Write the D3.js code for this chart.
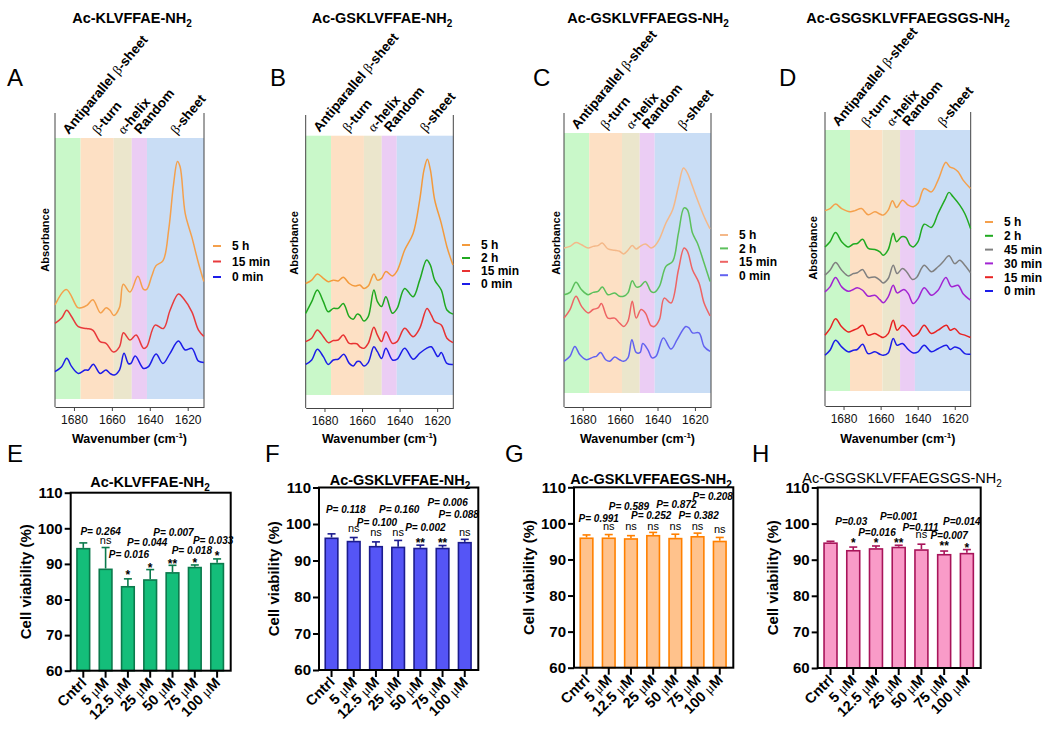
<!DOCTYPE html>
<html><head><meta charset="utf-8">
<script src="https://cdn.jsdelivr.net/npm/d3@7"></script>
<style>
body{margin:0;background:#fff}
svg{display:block}
text{font-family:"Liberation Sans",Arial,Helvetica,sans-serif}
</style>
</head><body>
<svg id="c" width="1050" height="731"></svg>
<script>
// ---------------- DATA ----------------
// FTIR spectra: [wavenumber (cm-1), absorbance (a.u., offset-stacked)]
const A_5h = [[1690,36],[1684,42],[1678,35],[1676,35],[1673,36],[1670,38],[1666,33],[1663,35],[1661,34],[1659,32],[1656,35],[1654,44],[1650.4,41],[1646.3,47],[1643.3,42],[1641.6,42],[1639,47],[1636.8,51],[1633,53],[1630,65],[1627.5,82],[1625.4,91],[1624,89],[1621.3,71],[1617.8,62],[1614.3,52],[1611.5,45]];
const A_15min = [[1690,29],[1686.5,31],[1683.8,34],[1681.2,31.5],[1677.7,27.7],[1673.3,27],[1670.1,26.4],[1666.2,22],[1663.1,21.3],[1659.2,18],[1656,20],[1653.9,25.4],[1650.4,22.6],[1647.2,24.5],[1643.3,19.4],[1641.6,20],[1637.2,28.3],[1632.8,27],[1629.3,34],[1624.9,40.2],[1622.2,38.5],[1617.8,33.4],[1614.3,26.4],[1611.5,24]];
const A_0min = [[1690,10.5],[1686.5,12.4],[1683.8,15.6],[1681.2,12.4],[1677.7,9.8],[1674.2,11.1],[1672.4,11.1],[1669.8,13.3],[1666.2,9.8],[1663.1,11.1],[1661,9.8],[1658.8,9.2],[1656,11.1],[1653.6,17.5],[1651.3,13.6],[1650,13.6],[1647.7,16.5],[1643.3,11.7],[1640.7,12.4],[1636.7,17.2],[1633.1,13.6],[1629.3,17.5],[1624.9,22.2],[1621.3,18.8],[1617.8,19.4],[1614.3,14.5],[1611.5,14]];

const B_5h = [[1690,43],[1686.8,44.3],[1683.8,46.7],[1680.6,45],[1678,43.7],[1675.3,44.3],[1672.7,44],[1670,45.4],[1666.8,43],[1663.8,42],[1661.2,42.4],[1659,41.1],[1656.7,42],[1653.7,46.7],[1651.8,44.3],[1649.6,45],[1647.3,47.6],[1643.8,45.9],[1641.3,47.9],[1637.3,55.9],[1632.8,62.3],[1629.3,75.2],[1627,86.8],[1625.2,90.9],[1623.6,86.8],[1621.3,75.2],[1617.8,66.2],[1614.8,57.2],[1611.6,50.1]];
const B_2h = [[1690,31.5],[1686.8,36],[1683.8,40.5],[1680.6,36],[1678,32.1],[1675.3,33.4],[1672.7,33.4],[1670,35.3],[1666.8,30.2],[1664.7,29.2],[1662.6,31.2],[1661.2,30.8],[1659,28.5],[1656.7,30.2],[1653.7,40.5],[1651.8,36],[1649.6,34.1],[1647.3,37.9],[1643.8,31.5],[1641.3,33.4],[1637.3,41.1],[1632.8,37.9],[1629.3,44.3],[1625.6,52.1],[1623.6,50.1],[1621.3,44.3],[1617.8,40.5],[1614.8,32.8],[1611.6,31.2]];
const B_15min = [[1690,20.6],[1686.8,21.9],[1683.8,25.1],[1680.6,22.5],[1678,20.2],[1675.3,21],[1672.7,21.2],[1670,23.1],[1666.8,19.9],[1663.8,19.9],[1662.6,19.7],[1661.2,18.6],[1659,18],[1656.7,19.9],[1653.7,26.1],[1651.8,23.1],[1649.6,20.6],[1647.3,24.4],[1643.8,19.9],[1641.3,20.6],[1637.3,25.7],[1632.8,22.5],[1629.3,25.7],[1625.4,33.4],[1623.1,30.8],[1621.3,28.3],[1617.8,27],[1614.8,21.9],[1611.6,20.2]];
const B_0min = [[1690,11.8],[1686.8,13.5],[1683.8,17.6],[1680.6,14.8],[1678,11.8],[1675.3,13.5],[1672.7,13.8],[1669.7,15.7],[1666.8,12.2],[1664.7,11.2],[1662.6,12.9],[1661.2,12.9],[1659,11.2],[1656.7,12.5],[1653.7,18.6],[1651.8,16.7],[1649.6,14.1],[1647.3,18],[1643.8,13.5],[1641.3,13.8],[1637.3,18],[1632.8,13.8],[1629.3,16.1],[1625.7,18],[1623.1,18.6],[1619.6,14.8],[1617.8,16.4],[1614.8,12.2],[1611.6,11.8]];

const C_5h = [[1690,55.8],[1686.8,56.4],[1683.6,57.9],[1680.6,57],[1677.1,55.8],[1674.4,56.4],[1671.8,56.7],[1669.5,57.7],[1666.5,55.4],[1662.9,54.9],[1660.3,54.5],[1658.1,53.5],[1655.8,54.9],[1653.5,56.7],[1651.4,55.4],[1649.3,56.4],[1646.5,57.3],[1643.5,55.8],[1641.7,56.4],[1639,59.2],[1635.5,65.4],[1631.9,70.5],[1628.8,79.5],[1626.1,86.5],[1624,84.6],[1621.3,79.5],[1618.7,74.4],[1615.1,67.9],[1611.9,63.1]];
const C_2h = [[1690,37.8],[1686.8,38.7],[1683.6,42.6],[1680.6,39.7],[1677.1,37.8],[1674.4,38.7],[1671.8,39.1],[1669.5,40.8],[1666.5,37.8],[1662.9,38.5],[1660.3,37.2],[1658.1,37.2],[1655.8,38.5],[1653.5,43.2],[1651.4,40.8],[1649.3,41],[1646.5,42.9],[1643.5,39.1],[1641.7,38.7],[1639,41],[1635.5,48.7],[1631.9,50.6],[1628.8,61.5],[1625.8,71.2],[1624,70.5],[1621.3,61.5],[1618.7,57.7],[1615.1,50],[1611.9,42.9]];
const C_15min = [[1690,28.8],[1686.8,32.1],[1683.6,37.2],[1680.6,33.3],[1677.1,30.8],[1674.4,32.1],[1671.8,32.7],[1670,34.4],[1666.5,28.8],[1662.9,28.8],[1660.3,26.9],[1658.1,25.6],[1655.8,27.6],[1653.5,35.3],[1651.4,28.8],[1648.8,32.1],[1646.5,30.8],[1643.5,25.9],[1641.7,25.6],[1639,28.2],[1636.4,36.5],[1632.8,34.6],[1628.8,47.4],[1625.8,55.8],[1624,54.5],[1621.3,47.4],[1617.8,42.3],[1615.1,34.6],[1611.9,29.7]];
const C_0min = [[1690,12.2],[1686.8,14.1],[1684.2,17.9],[1681.5,14.7],[1678,12.8],[1674.4,13.8],[1672.7,14.1],[1670.5,15.6],[1667.7,12.8],[1665.6,12.2],[1662.9,13.8],[1660.3,12.8],[1658.1,12.2],[1655.8,13.5],[1653.7,20.5],[1651.4,15.6],[1649.3,15.6],[1647.9,19],[1645.2,16.7],[1642.9,13.5],[1640.8,14.1],[1636.9,21.2],[1632.8,16.9],[1629.5,20.5],[1624.9,25.6],[1623.1,25],[1621.3,23.1],[1617.8,23.1],[1615.1,17.9],[1611.9,16]];

const D_5h = [[1690,69.1],[1687.3,69.9],[1684.3,71.6],[1681,69.9],[1676.5,68.7],[1673.8,69.1],[1670.3,69.9],[1666.7,67.5],[1663.1,68.7],[1660.4,67.8],[1658.6,67.4],[1655.9,69.3],[1653.6,72.9],[1651.4,70.3],[1648.2,73.1],[1645.1,71.2],[1642.4,70.6],[1639.8,71.9],[1636.5,77.6],[1632.6,76.3],[1629,80.8],[1624.8,87.6],[1622.7,85.9],[1620.5,85.3],[1618.2,84],[1615.5,80.8],[1611.5,77.6]];
const D_2h = [[1690,55.2],[1687.3,57.2],[1684.3,60.7],[1681,57.2],[1677.4,55.2],[1674.7,56.3],[1672.6,56.5],[1669.7,58.1],[1666.7,54.6],[1663.1,54.2],[1660.4,53.3],[1658.6,52],[1655.9,54.2],[1653.2,60.4],[1651.4,57.2],[1648.7,59.1],[1646.3,58.8],[1644.2,55.9],[1642.4,55.2],[1639.8,57.2],[1636.5,63.9],[1632.6,62.7],[1629,68],[1625.4,73.1],[1623.1,76.1],[1620.9,74.4],[1617.3,71.2],[1614.6,68],[1611.5,62.3]];
const D_45min = [[1690,44.4],[1687.3,46.3],[1684.3,49.2],[1681,46.3],[1677.4,44.1],[1674.7,45],[1672.6,45.3],[1669.7,46.5],[1666.7,43.5],[1663.1,43.7],[1660.4,42.5],[1658.6,41.4],[1655.9,43.1],[1653.2,48.2],[1651.1,45],[1648.2,46.9],[1646,45.7],[1642.8,42.7],[1640.6,43.5],[1636.5,48.2],[1632.6,45.7],[1629,47.6],[1626.3,49.5],[1623.1,51.8],[1620,48.8],[1617.3,50.1],[1614.6,48.2],[1611.5,45.3]];
const D_30min = [[1690,38],[1687.3,39.9],[1684.3,43.5],[1681,39.9],[1677.4,38.2],[1674.7,38.9],[1672.6,39.6],[1669.7,38.6],[1666.7,36.3],[1663.1,36.7],[1660.4,35],[1658.6,33.8],[1655.9,36.1],[1653.2,40.5],[1651.1,37.6],[1647.4,38.9],[1645.1,37.3],[1642.4,33.5],[1639.8,35.4],[1636.5,39.6],[1632.6,36.7],[1629,38.6],[1624.8,43.5],[1621.8,40],[1618.2,40.5],[1615.5,37.3],[1611.5,34.8]];
const D_15min = [[1690,21.4],[1687.3,23.9],[1684.3,27.7],[1681,24.6],[1677.4,22.6],[1674.7,23.3],[1672.6,23.9],[1669.7,25.2],[1666.7,21.4],[1663.1,22],[1660.4,21],[1658.6,20.5],[1655.9,22],[1653.2,27.1],[1651.1,23.3],[1648.2,25.2],[1645.1,23.3],[1642.4,21],[1639.8,22],[1636.5,25.2],[1632.6,22],[1629,23.3],[1624.5,25.2],[1622.4,23.3],[1620,23.9],[1617.3,22],[1614.6,21.4],[1611.5,20.5]];
const D_0min = [[1690,13.7],[1687.3,15.6],[1684.3,19.4],[1681,16.9],[1677.4,15],[1674.7,15.6],[1672.6,15.9],[1669.7,17.9],[1666.7,14.3],[1663.1,15],[1660.4,14.1],[1658.6,13.7],[1655.9,14.6],[1653.2,20.1],[1651.1,17.5],[1648.2,18.2],[1645.1,15.9],[1642.4,14.6],[1639.8,15],[1636.5,17.5],[1632.6,15],[1629,16.2],[1624.5,17.5],[1622.4,15.9],[1620,16.9],[1617.3,16.2],[1614.6,14.3],[1611.5,14.1]];

const wnDomain = [1690, 1611.4];
const wnTicks = [1680, 1660, 1640, 1620];
const bandRanges = [[1690,1676.5],[1676.5,1659],[1659,1649.5],[1649.5,1641.5],[1641.5,1611.4]];
const bandNames = [["Antiparallel ","β","-sheet"],["","β","-turn"],["","α","-helix"],["Random","",""],["","β","-sheet"]];

// Cell viability
const doses = ["Cntrl","5 μM","12.5 μM","25 μM","50 μM","75 μM","100 μM"];
const yTicks = [60,70,80,90,100,110];
const E_mean = [94.5, 88.7, 83.8, 85.7, 87.7, 89.2, 90.3];
const E_err  = [1.4, 5.9, 2.0, 2.7, 1.9, 0.5, 1.1];
const F_mean = [96.3, 95.4, 94.0, 93.8, 93.5, 93.5, 95.1];
const F_err  = [1.0, 0.9, 1.1, 1.7, 0.7, 0.6, 0.7];
const G_mean = [96.1, 96.1, 95.9, 96.8, 96.0, 96.5, 95.2];
const G_err  = [0.7, 0.8, 0.7, 0.7, 1.0, 0.8, 0.9];
const H_mean = [94.8, 92.7, 93.2, 93.6, 92.9, 91.6, 91.9];
const H_err  = [0.3, 0.8, 0.6, 0.4, 1.4, 0.8, 0.9];

const E_p = ["", "P= 0.264", "P= 0.016", "P= 0.044", "P= 0.007", "P= 0.018", "P= 0.033"];
const E_sig = ["", "ns", "*", "*", "**", "*", "*"];
const F_p = ["", "P= 0.118", "P= 0.100", "P= 0.160", "P= 0.002", "P= 0.006", "P= 0.088"];
const F_sig = ["", "ns", "ns", "ns", "**", "**", "ns"];
const G_p = ["", "P= 0.991", "P= 0.589", "P= 0.252", "P= 0.872", "P= 0.382", "P= 0.208"];
const G_sig = ["", "ns", "ns", "ns", "ns", "ns", "ns"];
const H_p = ["", "P=0.03", "P=0.016", "P=0.001", "P=0.111", "P=0.007", "P=0.014"];
const H_sig = ["", "*", "*", "**", "ns", "**", "*"];

// annotation label placement (value level, horizontal shift)
const E_pLevel = [0, 99.0, 92.7, 96.0, 98.8, 93.9, 96.5], E_pShift = [0,-5,1,-3,1,-3,-4], E_sLevel = [0,96.4,87.8,89.7,90.8,91.1,93.0];
const F_pLevel = [0, 104.0, 100.4, 104.0, 99.0, 105.8, 102.7], F_pShift = [0,-8,1,1,5,5,-6], F_sLevel = [0,98.5,97.4,97.4,95.6,95.6,97.4];
const G_pLevel = [0, 101.4, 104.6, 102.1, 105.3, 102.3, 107.4], G_pShift = [0,-10,-2,-2,1,1,-7], G_sLevel = [0,99.1,99.1,99.1,99.1,99.1,98.2];
const H_pLevel = [0, 100.5, 97.7, 102.1, 98.9, 96.8, 100.5], H_pShift = [0,-2,1,0,-1,5,-5], H_sLevel = [0,95.4,95.4,95.4,96.8,94.5,94.0];

// ---------------- STYLE / LAYOUT ----------------
const bandColors = ["#c9f8c9","#fde0c4","#ebe6cc","#ebcdf4","#c9ddf5"];
const SERIF = "'Liberation Serif','DejaVu Serif',serif";
const svg = d3.select("#c");

function rich(sel, parts){
  parts.forEach(p=>{
    if(!p.t) return;
    const t = sel.append("tspan").text(p.t);
    if(p.serif) t.attr("font-family",SERIF).attr("font-weight","normal");
    if(p.dy!==undefined) t.attr("dy",p.dy);
    if(p.fs) t.attr("font-size",p.fs);
  });
}

const spectra = [
  {letter:"A", lx:7, title:"Ac-KLVFFAE-NH", tx:132, left:55, right:204, top:113, bTop:138, bBot:399, axisY:407,
   absX:45, absY:240, legX:213, legY:246, legStep:15.5,
   series:[{n:"5 h",c:"#f4a04c",d:A_5h},{n:"15 min",c:"#e83a3c",d:A_15min},{n:"0 min",c:"#1c1ce8",d:A_0min}]},
  {letter:"B", lx:270, title:"Ac-GSKLVFFAE-NH", tx:382, left:305.7, right:453.3, top:115, bTop:135.7, bBot:395, axisY:408,
   absX:294, absY:243, legX:462, legY:245, legStep:13,
   series:[{n:"5 h",c:"#f39a3c",d:B_5h},{n:"2 h",c:"#20a820",d:B_2h},{n:"15 min",c:"#e83232",d:B_15min},{n:"0 min",c:"#1c1ce8",d:B_0min}]},
  {letter:"C", lx:533, title:"Ac-GSKLVFFAEGS-NH", tx:648, left:564, right:711, top:113, bTop:133, bBot:393, axisY:407,
   absX:556, absY:243, legX:720, legY:235, legStep:13.4,
   series:[{n:"5 h",c:"#f4b889",d:C_5h},{n:"2 h",c:"#5cc05c",d:C_2h},{n:"15 min",c:"#ee6464",d:C_15min},{n:"0 min",c:"#6262f0",d:C_0min}]},
  {letter:"D", lx:779, title:"Ac-GSGSKLVFFAEGSGS-NH", tx:908, left:825, right:970.7, top:112, bTop:130, bBot:391, axisY:406,
   absX:813, absY:248, legX:985, legY:222, legStep:13.8,
   series:[{n:"5 h",c:"#f5a04c",d:D_5h},{n:"2 h",c:"#20aa20",d:D_2h},{n:"45 min",c:"#808080",d:D_45min},{n:"30 min",c:"#a224d2",d:D_30min},{n:"15 min",c:"#e82222",d:D_15min},{n:"0 min",c:"#1c1ce8",d:D_0min}]}
];

spectra.forEach(p=>{
  const g = svg.append("g");
  const x = d3.scaleLinear().domain(wnDomain).range([p.left,p.right]);
  const y = d3.scaleLinear().domain([0,100]).range([p.bBot,p.bTop]);
  g.selectAll("rect.band").data(bandRanges).join("rect")
    .attr("x",d=>x(d[0])).attr("width",d=>x(d[1])-x(d[0]))
    .attr("y",p.bTop).attr("height",p.bBot-p.bTop)
    .attr("fill",(d,i)=>bandColors[i]);
  [p.left,p.right].forEach(xx=>g.append("line").attr("x1",xx).attr("x2",xx).attr("y1",p.top).attr("y2",p.axisY).attr("stroke","#444").attr("stroke-width",1));
  const ax = g.append("g").attr("transform",`translate(0,${p.axisY})`)
    .call(d3.axisBottom(x).tickValues(wnTicks).tickSize(4).tickSizeOuter(0).tickFormat(d3.format("d")));
  ax.select(".domain").attr("stroke","#444");
  ax.selectAll(".tick line").attr("stroke","#444");
  ax.selectAll("text").attr("font-size",12).attr("fill","#111").attr("dy","0.8em");
  const line = d3.line().x(d=>x(d[0])).y(d=>y(d[1])).curve(d3.curveCatmullRom.alpha(0.5));
  p.series.forEach(s=>g.append("path").attr("d",line(s.d)).attr("fill","none").attr("stroke",s.c).attr("stroke-width",1.5));
  bandRanges.forEach((b,i)=>{
    const cx = x((b[0]+b[1])/2) + 1;
    const t = g.append("text").attr("transform",`translate(${cx},${p.bTop-3}) rotate(-50)`)
      .attr("font-size",13.5).attr("font-weight","bold").attr("fill","#000");
    const nm = bandNames[i];
    rich(t,[{t:nm[0]},{t:nm[1],serif:true},{t:nm[2]}]);
  });
  const tt = g.append("text").attr("x",p.tx).attr("y",23).attr("text-anchor","middle").attr("font-size",14.5).attr("font-weight","bold");
  rich(tt,[{t:p.title},{t:"2",dy:4,fs:10}]);
  g.append("text").attr("x",p.lx).attr("y",86).attr("font-size",24).text(p.letter);
  g.append("text").attr("transform",`translate(${p.absX+4},${p.absY}) rotate(-90)`).attr("text-anchor","middle")
    .attr("font-size",11).attr("font-weight","bold").text("Absorbance");
  p.series.forEach((s,i)=>{
    const yy = p.legY + i*p.legStep;
    g.append("line").attr("x1",p.legX).attr("x2",p.legX+8).attr("y1",yy).attr("y2",yy).attr("stroke",s.c).attr("stroke-width",2);
    g.append("text").attr("x",p.legX+19).attr("y",yy+4.3).attr("font-size",12).attr("font-weight","bold").text(s.n);
  });
  const xl = g.append("text").attr("x",(p.left+p.right)/2).attr("y",443).attr("text-anchor","middle").attr("font-size",12.5).attr("font-weight","bold");
  rich(xl,[{t:"Wavenumber (cm"},{t:"-1",dy:-5,fs:8},{t:")",dy:5}]);
});

// ---------------- BAR PANELS ----------------
const bars = [
  {letter:"E", lx:7, title:"Ac-KLVFFAE-NH", tw:"bold", tx:150, ty:487, left:70.7, right:230.7, top:492.7, bottom:670.7,
   mean:E_mean, err:E_err, p:E_p, sig:E_sig, pL:E_pLevel, pS:E_pShift, sL:E_sLevel, fill:"#14be7a", stroke:"#0b7a4c"},
  {letter:"F", lx:265, title:"Ac-GSKLVFFAE-NH", tw:"bold", tx:400, ty:485, left:319, right:478.3, top:487.5, bottom:670,
   mean:F_mean, err:F_err, p:F_p, sig:F_sig, pL:F_pLevel, pS:F_pShift, sL:F_sLevel, fill:"#5555f6", stroke:"#1c1c8e"},
  {letter:"G", lx:505, title:"Ac-GSKLVFFAEGS-NH", tw:"bold", tx:651, ty:484, left:574, right:733.3, top:487.3, bottom:667.7,
   mean:G_mean, err:G_err, p:G_p, sig:G_sig, pL:G_pLevel, pS:G_pShift, sL:G_sLevel, fill:"#ffc28c", stroke:"#ff8000"},
  {letter:"H", lx:752, title:"Ac-GSGSKLVFFAEGSGS-NH", tw:"normal", tx:902, ty:483, left:817.7, right:980.7, top:487.5, bottom:668,
   mean:H_mean, err:H_err, p:H_p, sig:H_sig, pL:H_pLevel, pS:H_pShift, sL:H_sLevel, fill:"#f99bc8", stroke:"#a8145a"}
];

bars.forEach(p=>{
  const g = svg.append("g");
  const x = d3.scaleBand().domain(doses).range([p.left+1,p.right-2]).paddingInner(0.36).paddingOuter(0.2);
  const y = d3.scaleLinear().domain([60,110]).range([p.bottom,p.top]);
  const data = doses.map((d,i)=>({d, m:p.mean[i], e:p.err[i], pv:p.p[i], s:p.sig[i], pl:p.pL[i], ps:p.pS[i], sl:p.sL[i]}));
  data.forEach(o=>{
    const cx = x(o.d)+x.bandwidth()/2;
    g.append("line").attr("x1",cx).attr("x2",cx).attr("y1",y(o.m)).attr("y2",y(o.m+o.e)).attr("stroke",p.stroke).attr("stroke-width",1.6);
    g.append("line").attr("x1",cx-4).attr("x2",cx+4).attr("y1",y(o.m+o.e)).attr("y2",y(o.m+o.e)).attr("stroke",p.stroke).attr("stroke-width",1.6);
  });
  g.selectAll("rect.bar").data(data).join("rect")
    .attr("x",o=>x(o.d)+0.8).attr("width",x.bandwidth()-1.6)
    .attr("y",o=>y(o.m)+0.8).attr("height",o=>y(60)-y(o.m)-0.8)
    .attr("fill",p.fill).attr("stroke",p.stroke).attr("stroke-width",1.6);
  g.append("rect").attr("x",p.left).attr("y",p.top).attr("width",p.right-p.left).attr("height",p.bottom-p.top)
    .attr("fill","none").attr("stroke","#000").attr("stroke-width",2);
  const ya = g.append("g").attr("transform",`translate(${p.left},0)`).call(d3.axisLeft(y).tickValues(yTicks).tickSize(6).tickSizeOuter(0));
  ya.select(".domain").remove();
  ya.selectAll(".tick line").attr("stroke","#000").attr("stroke-width",2);
  ya.selectAll("text").attr("font-size",15).attr("font-weight","bold").attr("fill","#000").attr("x",-8);
  const xa = g.append("g").attr("transform",`translate(0,${p.bottom})`).call(d3.axisBottom(x).tickSize(7).tickSizeOuter(0));
  xa.select(".domain").remove();
  xa.selectAll(".tick line").attr("stroke","#000").attr("stroke-width",2);
  xa.selectAll("text").remove();
  doses.forEach(d=>{
    const cx = x(d)+x.bandwidth()/2;
    const t = g.append("text").attr("transform",`translate(${cx+4},${p.bottom+13}) rotate(-45)`)
      .attr("text-anchor","end").attr("font-size",14.5).attr("font-weight","bold");
    if(d.includes("μ")){
      const parts = d.split("μ");
      rich(t,[{t:parts[0]},{t:"μ",serif:true},{t:parts[1]}]);
    } else t.text(d);
  });
  data.forEach(o=>{
    const cx = x(o.d)+x.bandwidth()/2;
    if(o.pv) g.append("text").attr("x",cx+o.ps).attr("y",y(o.pl)+3.6).attr("text-anchor","middle")
      .attr("font-size",10).attr("font-weight","bold").attr("font-style","italic").text(o.pv);
    if(o.s){
      const isNs = o.s==="ns";
      const fs = isNs?11:12;
      g.append("text").attr("x",cx).attr("y",y(o.sl)+(isNs?0.27*fs:0.58*fs)).attr("text-anchor","middle")
        .attr("font-size",fs).attr("font-weight",isNs?"normal":"bold").text(o.s);
    }
  });
  const tt = g.append("text").attr("x",p.tx).attr("y",p.ty).attr("text-anchor","middle").attr("font-size",14.5).attr("font-weight",p.tw);
  rich(tt,[{t:p.title},{t:"2",dy:4,fs:10}]);
  g.append("text").attr("x",p.lx).attr("y",462).attr("font-size",24).text(p.letter);
  g.append("text").attr("transform",`translate(${p.left-40},${(p.top+p.bottom)/2}) rotate(-90)`).attr("text-anchor","middle")
    .attr("font-size",15).attr("font-weight","bold").text("Cell viability (%)");
});
</script>
</body></html>
